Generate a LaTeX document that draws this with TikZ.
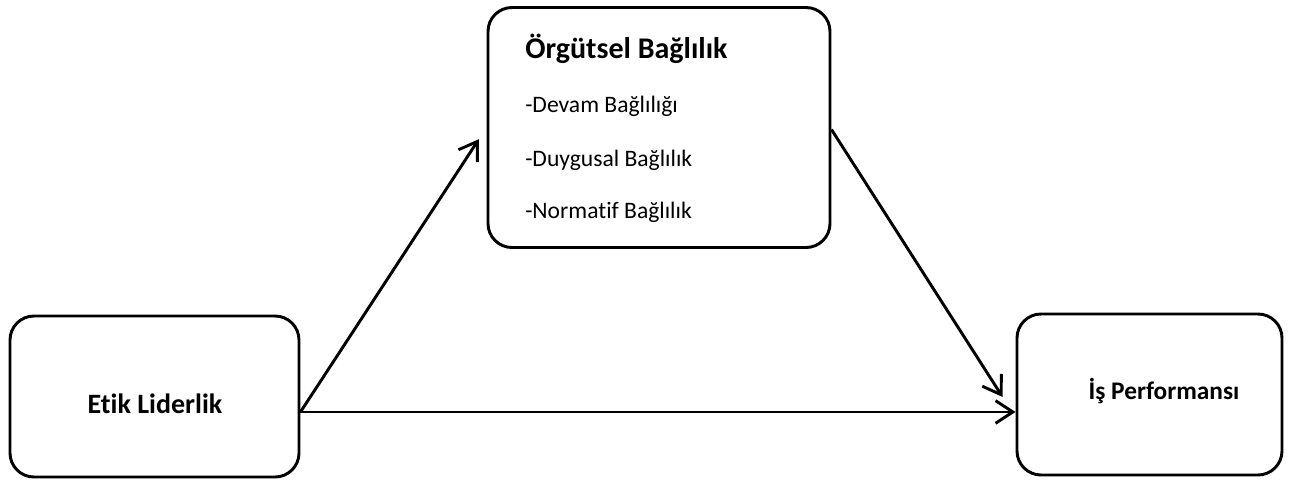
\documentclass[tikz,border=0pt]{standalone}
\usepackage{fontspec}
\setmainfont{Carlito}[Ligatures=NoCommon]
\usetikzlibrary{arrows.meta,calc}
\tikzset{
  box/.style={draw, line width=2.2pt, rounded corners=18pt, inner sep=0pt},
  arr/.style={line width=2.2pt, -{Straight Barb[length=13pt,width=17pt,line width=2.2pt]}},
  lbl/.style={inner sep=0pt, anchor=base},
  ttl/.style={font=\fontsize{22.5pt}{26pt}\selectfont\bfseries, inner sep=0pt, anchor=base west},
  itm/.style={font=\fontsize{17.7pt}{21pt}\selectfont, inner sep=0pt, anchor=base west},
}
\begin{document}
\begin{tikzpicture}[x=0.75pt,y=-0.75pt]
\useasboundingbox (0,0) rectangle (1290,479);
% boxes
\node[box, minimum width=289*0.75pt, minimum height=161*0.75pt] (etik) at (154.5,396.5) {};
\node[box, minimum width=342*0.75pt, minimum height=240*0.75pt] (org) at (659,127.5) {};
\node[box, minimum width=265*0.75pt, minimum height=161*0.75pt] (is) at (1149.5,394.5) {};
% texts
\node[lbl, font=\fontsize{21pt}{25pt}\selectfont\bfseries] (etikt) at (155,413) {Etik Liderlik};
\node[lbl, font=\fontsize{19pt}{23pt}\selectfont\bfseries] (ist) at (1164,399) {İş Performansı};
\node[ttl] (orgt) at (525,58) {Örgütsel Bağlılık};
\node[itm] (i1) at (525,112) {-Devam Bağlılığı};
\node[itm] (i2) at (525,166) {-Duygusal Bağlılık};
\node[itm] (i3) at (525,218) {-Normatif Bağlılık};
% connectors
\coordinate (eo) at ([yshift=-11.6pt]etik.east);
\coordinate (ia) at ([yshift=-17pt]is.west);
\draw[arr, shorten >=10.5pt] (eo) -- (org.west);
\draw[arr] (eo) -- (is.west |- eo);
\draw[arr, shorten >=18pt] ([yshift=-1.5pt]org.east) -- (ia);
\end{tikzpicture}
\end{document}
